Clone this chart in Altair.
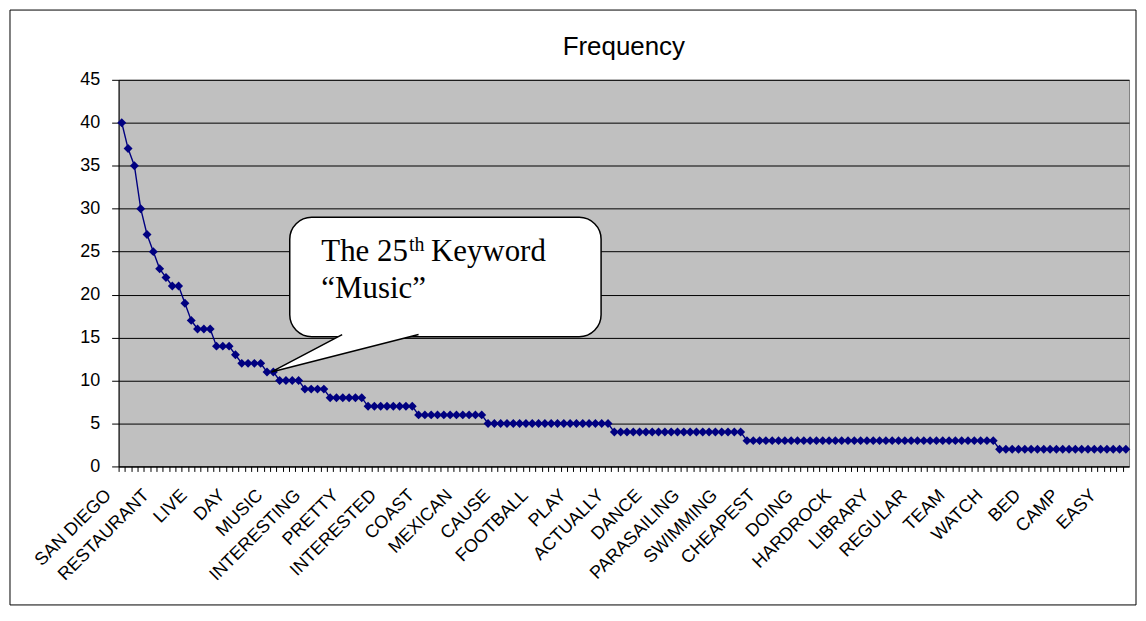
import altair as alt
import pandas as pd

# ---- data ----
label_names = ["SAN DIEGO", "RESTAURANT", "LIVE", "DAY", "MUSIC", "INTERESTING",
               "PRETTY", "INTERESTED", "COAST", "MEXICAN", "CAUSE", "FOOTBALL",
               "PLAY", "ACTUALLY", "DANCE", "PARASAILING", "SWIMMING", "CHEAPEST",
               "DOING", "HARDROCK", "LIBRARY", "REGULAR", "TEAM", "WATCH", "BED",
               "CAMP", "EASY"]
label_step = 6

frequency = [40, 37, 35, 30, 27, 25, 23, 22, 21, 21,
             19, 17, 16, 16, 16, 14, 14, 14, 13, 12,
             12, 12, 12, 11, 11, 10, 10, 10, 10, 9,
             9, 9, 9, 8, 8, 8, 8, 8, 8, 7,
             7, 7, 7, 7, 7, 7, 7, 6, 6, 6,
             6, 6, 6, 6, 6, 6, 6, 6, 5, 5,
             5, 5, 5, 5, 5, 5, 5, 5, 5, 5,
             5, 5, 5, 5, 5, 5, 5, 5, 4, 4,
             4, 4, 4, 4, 4, 4, 4, 4, 4, 4,
             4, 4, 4, 4, 4, 4, 4, 4, 4, 3,
             3, 3, 3, 3, 3, 3, 3, 3, 3, 3,
             3, 3, 3, 3, 3, 3, 3, 3, 3, 3,
             3, 3, 3, 3, 3, 3, 3, 3, 3, 3,
             3, 3, 3, 3, 3, 3, 3, 3, 3, 2,
             2, 2, 2, 2, 2, 2, 2, 2, 2, 2,
             2, 2, 2, 2, 2, 2, 2, 2, 2, 2]

# callout (data coordinates: keyword rank, frequency)
callout_box = {"x1": 27.6, "x2": 76.9, "y1": 15.1, "y2": 29.0}
callout_tip = {"x": 24.7, "y": 11.0}
callout_base = [{"x": 35.9, "y": 15.35}, {"x": 48.0, "y": 15.35}]
callout_anchor = {"x": 32.6, "y": 23.9}

n = len(frequency)
df = pd.DataFrame({"rank": list(range(1, n + 1)), "frequency": frequency})

js_names = "[" + ",".join("'" + s + "'" for s in label_names) + "]"
label_expr = (f"(datum.value - 1) % {label_step} == 0 ? "
              f"{js_names}[round((datum.value - 1) / {label_step})] : ''")

W, H = 1014, 388
band = W / n
xscale = alt.Scale(domain=[0.5, n + 0.5], nice=False, zero=False)
yscale = alt.Scale(domain=[0, 45], nice=False, zero=True)

NAVY = "#000080"
SANS = "Liberation Sans"
SERIF = "Liberation Serif"

x_axis = alt.Axis(values=list(range(1, n + 1)), labelExpr=label_expr,
                  ticks=True, tickSize=5, tickColor="black", tickWidth=1,
                  tickOffset=-band / 2, domain=True, domainColor="black",
                  domainWidth=1, grid=False, labelAngle=-45, labelAlign="right",
                  labelBaseline="middle", labelFont=SANS, labelFontSize=18,
                  labelColor="black", labelPadding=21, labelOffset=-10.5,
                  labelOverlap=False, labelFlush=False, labelBound=False,
                  title=None)
y_axis = alt.Axis(values=list(range(0, 46, 5)), grid=True, gridColor="black",
                  gridWidth=1, gridOpacity=1, tickSize=7, tickColor="black",
                  domainColor="black", labelFont=SANS, labelFontSize=18,
                  labelColor="black", labelPadding=12, title=None)


def X(field):
    return alt.X(field, scale=xscale, axis=x_axis)


def Y(field):
    return alt.Y(field, scale=yscale, axis=y_axis)


line = alt.Chart(df).mark_line(color=NAVY, strokeWidth=1.4).encode(
    x=X("rank:Q"), y=Y("frequency:Q"),
)
points = alt.Chart(df).mark_point(shape="diamond", filled=True, size=80,
                                  color=NAVY, opacity=1).encode(
    x=X("rank:Q"), y=Y("frequency:Q"),
)

box = alt.Chart(alt.Data(values=[callout_box])).mark_rect(
    fill="white", stroke="black", strokeWidth=1.5, cornerRadius=22).encode(
    x=X("x1:Q"), x2="x2:Q", y=Y("y1:Q"), y2="y2:Q",
)
tri_rows = [dict(callout_base[0], o=0), dict(callout_tip, o=1), dict(callout_base[1], o=2)]
pointer = alt.Chart(alt.Data(values=tri_rows)).mark_line(
    fill="white", stroke="black", strokeWidth=1.5).encode(
    x=X("x:Q"), y=Y("y:Q"), order="o:O",
)


def ctext(txt, size, dx, dy):
    return alt.Chart(alt.Data(values=[dict(callout_anchor, t=txt)])).mark_text(
        font=SERIF, fontSize=size, align="left", baseline="alphabetic",
        color="black", dx=dx, dy=dy).encode(
        x=X("x:Q"), y=Y("y:Q"), text="t:N",
    )


t1 = ctext("The 25", 31, 0, 0)
t2 = ctext("th", 20, 88, -10)
t3 = ctext("Keyword", 31, 110, 0)
t4 = ctext("\u201cMusic\u201d", 31, 0, 37)

border = alt.Chart(alt.Data(values=[{}])).mark_rect(
    fill="transparent", stroke="black", strokeWidth=1, clip=False).encode(
    x=alt.value(-109), x2=alt.value(1021), y=alt.value(-70), y2=alt.value(527),
)

chart = alt.layer(line, points, box, pointer, t1, t2, t3, t4, border).properties(
    width=W, height=H,
    title=alt.TitleParams("Frequency", font=SANS, fontSize=26, fontWeight="normal",
                          color="black", baseline="alphabetic", offset=-72),
    autosize=alt.AutoSizeParams(type="none"),
    padding={"left": 111, "top": 71, "right": 9, "bottom": 141},
    background="white",
).configure_view(fill="#C0C0C0", stroke="#808080", strokeWidth=1)

chart.save("out.html", embed_options={"renderer": "svg", "actions": False})
